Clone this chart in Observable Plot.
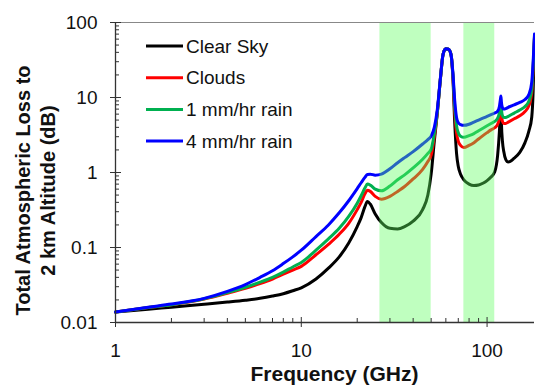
<!DOCTYPE html>
<html><head><meta charset="utf-8">
<script src="https://cdn.jsdelivr.net/npm/d3@7"></script>
<script src="https://cdn.jsdelivr.net/npm/@observablehq/plot@0.6"></script>
<style>
body{margin:0;background:#fff;}
#chart{position:relative;width:535px;height:387px;font-family:"Liberation Sans",Arial,sans-serif;}
</style></head><body><div id="chart"></div>
<script>
// Frequency (GHz)
const freq = [1,1.5,2,3,4,5,6,7,8,9,10,12,14,16,18,20,21,22,22.7,23.5,25,27,30,33,36,40,45,48,50,52,54,56,58,60,62,64,65.5,67,68.5,70,72,75,80,85,90,95,100,105,110,114,116.5,118,118.75,119.5,121,123,126,130,140,150,160,168,174,177,180];
// Total atmospheric loss to 2 km altitude (dB)
const clearSky = [0.0138,0.015,0.016,0.0175,0.0187,0.0198,0.021,0.0225,0.0242,0.0265,0.029,0.038,0.053,0.075,0.115,0.19,0.25,0.35,0.41,0.38,0.28,0.215,0.18,0.177,0.19,0.225,0.32,0.5,0.95,2.6,6.3,17,38,44.5,44,37,18,4.5,1.8,1.2,0.95,0.8,0.7,0.67,0.68,0.72,0.78,0.87,1.02,1.7,3.5,6.5,8.5,4.5,2.6,1.9,1.5,1.38,1.55,1.85,2.5,3.6,5.5,12,62];
const clouds = [0.0138,0.0158,0.0172,0.0205,0.0245,0.0285,0.033,0.038,0.044,0.05,0.056,0.08,0.11,0.15,0.21,0.32,0.4,0.52,0.58,0.56,0.48,0.44,0.48,0.56,0.65,0.82,1.1,1.4,1.7,3.0,6.4,17,38,44.5,44,37,19,6.5,3.4,2.6,2.3,2.15,2.3,2.5,2.8,3.1,3.4,3.7,3.95,4.4,5.3,6.8,7.6,6.0,4.8,4.5,4.5,4.7,5.2,5.7,6.5,7.8,11.5,24,64];
const rain1 = [0.0138,0.0158,0.0173,0.0207,0.025,0.0295,0.0345,0.04,0.047,0.055,0.063,0.092,0.13,0.18,0.26,0.39,0.49,0.62,0.7,0.68,0.6,0.57,0.66,0.8,0.93,1.15,1.5,1.8,2.05,3.3,6.5,17,38,44.5,44,37,20,7.5,4.2,3.4,3.05,2.95,3.1,3.3,3.6,3.9,4.2,4.5,4.8,5.3,6.3,8.0,8.8,7.0,5.7,5.4,5.4,5.6,6.2,6.8,7.6,9.0,13,26,66];
const rain4 = [0.0138,0.016,0.0176,0.021,0.026,0.032,0.04,0.049,0.061,0.075,0.092,0.14,0.2,0.29,0.42,0.61,0.73,0.86,0.94,0.95,0.92,0.95,1.12,1.35,1.58,1.9,2.4,2.75,3.05,4.0,7.0,17.5,38,44.5,44,37,21,9,5.4,4.6,4.35,4.25,4.4,4.7,5.0,5.3,5.6,5.9,6.2,6.6,7.6,9.5,10.5,8.6,7.3,7.0,7.1,7.4,8.0,8.6,9.4,11,16,30,70];

const seriesNames = ["Clear Sky","Clouds","1 mm/hr rain","4 mm/hr rain"];
const seriesColors = ["#000000","#ff0000","#00b050","#0000ff"];
// Shaded frequency bands (GHz)
const bandStart = [26.5, 75];
const bandEnd = [50, 110];
// Axis ticks
const xMajor = [1, 10, 100];
const xMinor = [2,3,4,5,6,7,8,9,20,30,40,50,60,70,80,90];
const yMajor = [0.01, 0.1, 1, 10, 100];
const yMinor = [0.02,0.03,0.04,0.05,0.06,0.07,0.08,0.09,0.2,0.3,0.4,0.5,0.6,0.7,0.8,0.9,2,3,4,5,6,7,8,9,20,30,40,50,60,70,80,90];

const rows = [];
[clearSky, clouds, rain1, rain4].forEach((vals, i) =>
  vals.forEach((v, j) => rows.push({f: freq[j], v, s: seriesNames[i]})));
const bands = bandStart.map((s, i) => ({start: s, end: bandEnd[i]}));

const FONT = "'Liberation Sans', Arial, sans-serif";
const AX = "#333";

const plot = Plot.plot({
  width: 535, height: 387,
  marginLeft: 115, marginRight: 1, marginTop: 22, marginBottom: 65,
  style: {fontFamily: FONT, fontSize: "19px", color: "#000", background: "#fff"},
  x: {type: "log", domain: [1, 180]},
  y: {type: "log", domain: [0.01, 100]},
  color: {domain: seriesNames, range: seriesColors},
  marks: [
    Plot.line(rows, {x: "f", y: "v", z: "s", stroke: "s", strokeWidth: 3, curve: "monotone-x"}),
    Plot.rect(bands, {x1: "start", x2: "end", y1: 0.01, y2: 100, fill: "#60ff60", fillOpacity: 0.4}),
    Plot.ruleY([100], {stroke: "#888", strokeWidth: 1}),
    Plot.ruleX([1], {stroke: AX, strokeWidth: 1.3}),
    Plot.ruleY([0.01], {stroke: AX, strokeWidth: 1.3}),
    Plot.axisY(yMajor, {tickSize: 11, dx: 6, tickFormat: () => "", label: null, stroke: AX}),
    Plot.axisY(yMinor, {tickSize: 4, dx: 4, tickFormat: () => "", label: null, stroke: AX}),
    Plot.axisY(yMajor, {tickSize: 0, tickPadding: 18, tickFormat: d => String(d), label: null, fontSize: 19, fill: "#111"}),
    Plot.axisX(xMajor, {tickSize: 10, dy: -5, tickFormat: () => "", label: null, stroke: AX}),
    Plot.axisX(xMinor, {tickSize: 4, dy: -4, tickFormat: () => "", label: null, stroke: AX}),
    Plot.axisX(xMajor, {tickSize: 0, tickPadding: 21, tickFormat: d => String(d), label: null, fontSize: 19, fill: "#111"}),
    Plot.text(["Frequency (GHz)"], {frameAnchor: "bottom", dx: 9.5, dy: 52, fontSize: 21, fontWeight: "bold", textAnchor: "middle", lineAnchor: "middle", fill: "#111"}),
    Plot.text(["Total Atmospheric Loss to\n2 km Altitude (dB)"], {frameAnchor: "left", dx: -81.5, dy: 18, rotate: -90, fontSize: 20, fontWeight: "bold", lineHeight: 1.25, textAnchor: "middle", lineAnchor: "middle", fill: "#111"})
  ]
});

const chart = document.getElementById("chart");
chart.appendChild(plot);

// Legend (inside plot area, top-left)
const legend = d3.create("svg")
  .attr("width", 535).attr("height", 387)
  .style("position", "absolute").style("left", "0px").style("top", "0px")
  .style("pointer-events", "none");
seriesNames.forEach((name, i) => {
  const y = 46 + i * 31.7;
  legend.append("line").attr("x1", 146).attr("x2", 183).attr("y1", y).attr("y2", y)
    .attr("stroke", seriesColors[i]).attr("stroke-width", 3);
  legend.append("text").attr("x", 186).attr("y", y).attr("dy", "0.35em")
    .attr("font-family", FONT).attr("font-size", 19).attr("fill", "#111").text(name);
});
chart.appendChild(legend.node());
</script>
</body></html>
